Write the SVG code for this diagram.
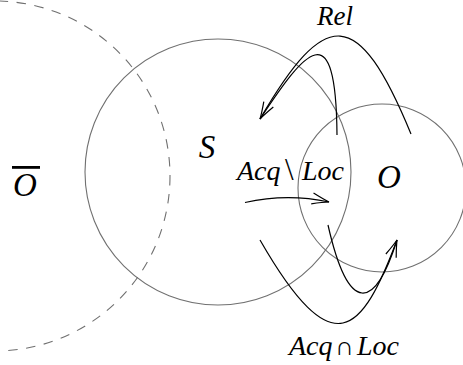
<svg xmlns="http://www.w3.org/2000/svg" width="463" height="365" viewBox="0 0 463 365">
<style>
.set{fill:none;stroke:#707070;stroke-width:1.1}
.dash{fill:none;stroke:#707070;stroke-width:1.1;stroke-dasharray:9.5 8.5}
.arr{fill:none;stroke:#000;stroke-width:1.2}
.t{font-family:'Liberation Serif','Times New Roman',serif;font-style:italic;font-size:28px;fill:#000}
.cal{font-size:33px}
.up{font-style:normal}
</style>
<defs>
<marker id="ah" markerUnits="userSpaceOnUse" markerWidth="24" markerHeight="16" viewBox="-20 -8 24 16" refX="0" refY="0" orient="auto">
<path d="M-17,-5.5 Q-6,-1.5 0,0 Q-6,1.5 -17,5.5" fill="none" stroke="#000" stroke-width="1.2"/>
</marker>
</defs>
<g id="set-S"><circle class="set" cx="218" cy="172" r="133"/></g>
<g id="set-O"><circle class="set" cx="382" cy="188" r="84"/></g>
<g id="set-Obar"><circle class="dash" cx="-5" cy="176" r="175"/></g>
<g id="connectors">
<path class="arr" d="M411,134 C357.8,4.8 325.3,7 260,119" marker-end="url(#ah)"/>
<path class="arr" d="M337,135 C336,11 305,51 260,119"/>
<path class="arr" d="M245,202.5 Q287,193 329,202" marker-end="url(#ah)"/>
<path class="arr" d="M260,240 C333.5,368 362,333.4 397,240" marker-end="url(#ah)"/>
<path class="arr" d="M328,225 C348.7,316.5 375,309.8 397,240"/>
</g>
<g id="labels">
<text class="t" x="317" y="25" style="font-size:27px">Rel</text>
<text class="t cal" x="207" y="158" text-anchor="middle">S</text>
<text class="t cal" x="389" y="188" text-anchor="middle">O</text>
<g id="label-Obar">
<rect x="12" y="166" width="28" height="2.8" fill="#000"/>
<text class="t cal" x="25" y="196" text-anchor="middle">O</text>
</g>
<text class="t" y="180"><tspan x="237">Acq</tspan><tspan x="285" class="up" style="font-size:31px">\</tspan><tspan x="302">Loc</tspan></text>
<text class="t" y="355"><tspan x="289">Acq</tspan><tspan x="335" class="up" style="font-size:26px">∩</tspan><tspan x="357">Loc</tspan></text>
</g>
</svg>
